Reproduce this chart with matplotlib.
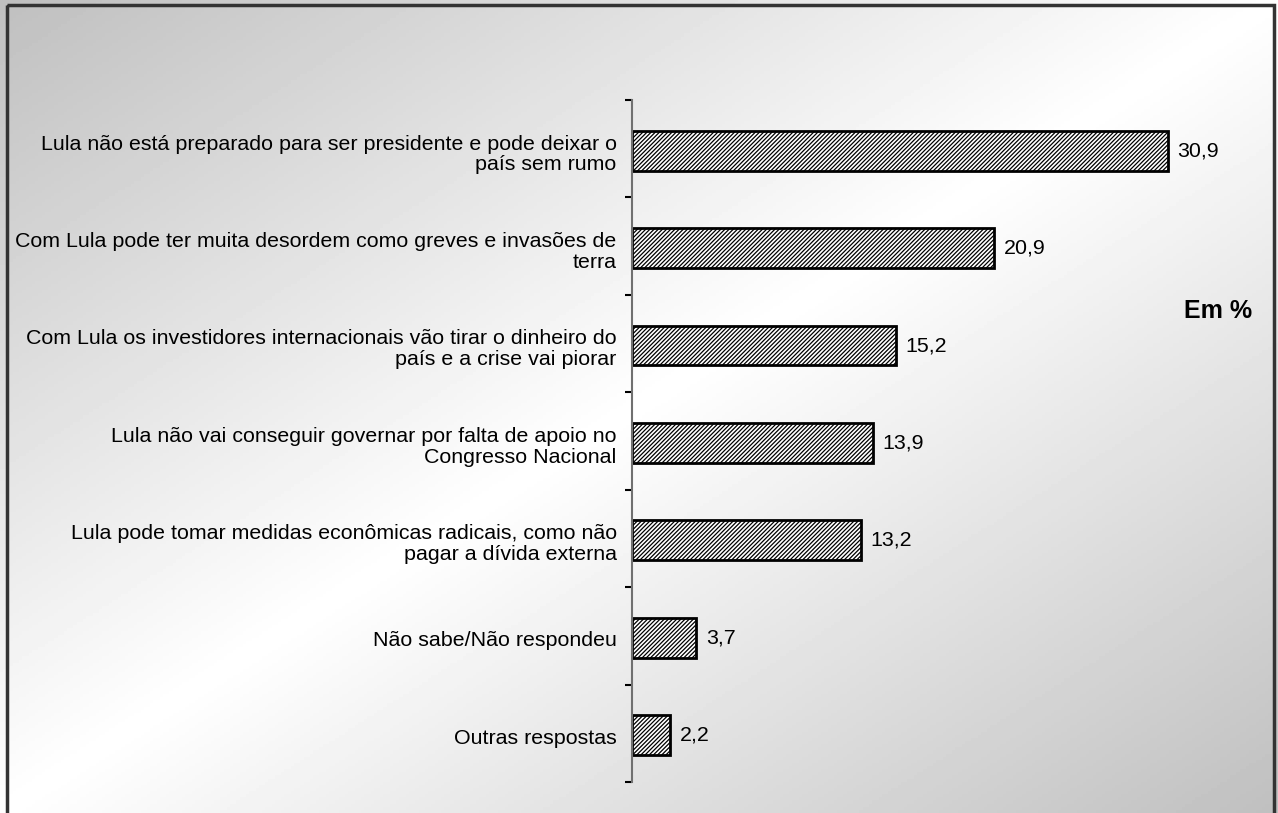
import numpy as np
import matplotlib
matplotlib.use('Agg')
import matplotlib.pyplot as plt
from matplotlib.patches import Rectangle

plt.rcParams['font.family'] = ['Liberation Sans', 'DejaVu Sans']
plt.rcParams['hatch.linewidth'] = 0.9

# Data
categories = ['Lula não está preparado para ser presidente e pode deixar o\npaís sem rumo',
              'Com Lula pode ter muita desordem como greves e invasões de\nterra',
              'Com Lula os investidores internacionais vão tirar o dinheiro do\npaís e a crise vai piorar',
              'Lula não vai conseguir governar por falta de apoio no\nCongresso Nacional',
              'Lula pode tomar medidas econômicas radicais, como não\npagar a dívida externa',
              'Não sabe/Não respondeu',
              'Outras respostas']
values = [30.9, 20.9, 15.2, 13.9, 13.2, 3.7, 2.2]
value_labels = ['30,9', '20,9', '15,2', '13,9', '13,2', '3,7', '2,2']

W, H = 1278, 813
fig = plt.figure(figsize=(W / 100, H / 100), dpi=100)

# background gradient: grey in top-left / bottom-right corners, white along the other diagonal
bg = fig.add_axes([0, 0, 1, 1], zorder=0)
xx, yy = np.meshgrid(np.linspace(0, 1, 400), np.linspace(0, 1, 260))
s = np.abs(xx + yy - 1.0)
shade = 1.0 - 0.25 * s
bg.imshow(shade, cmap='gray', vmin=0, vmax=1, aspect='auto', extent=[0, 1, 1, 0])
bg.set_xlim(0, 1)
bg.set_ylim(1, 0)
bg.axis('off')
bg.add_patch(Rectangle((7 / W, 5 / H), (1274 - 7) / W, 1.0, fill=False,
                       edgecolor='#333333', linewidth=2.5))

ax = fig.add_axes([632 / W, 1 - 782 / H, 607 / W, 682 / H], zorder=1)
ax.patch.set_alpha(0)

y = np.arange(len(categories))
ax.barh(y + 0.02, values, height=0.41, facecolor='white', edgecolor='black',
        linewidth=2, hatch='////////')
for yi, v, lab in zip(y, values, value_labels):
    ax.annotate(lab, (v, yi + 0.02), xytext=(7, 0), textcoords='offset points',
                va='center', ha='left', fontsize=15.4)

ax.set_xlim(0, 35)
ax.set_ylim(len(categories) - 0.5, -0.5)
ax.set_yticks(y + 0.03)
ax.set_yticklabels(categories, fontsize=15.4, linespacing=1.12)
ax.set_yticks(np.arange(-0.5, len(categories), 1.0), minor=True)
ax.tick_params(axis='y', which='major', length=0, pad=11)
ax.tick_params(axis='y', which='minor', length=5, width=1.5, color='black', direction='out')
ax.set_xticks([])
for side in ['top', 'right', 'bottom']:
    ax.spines[side].set_visible(False)
ax.spines['left'].set_color('#707070')
ax.spines['left'].set_linewidth(1.5)

fig.text(1218 / W, 1 - 311 / H, 'Em %', fontsize=18, fontweight='bold',
         ha='center', va='center')

fig.savefig('out.png', dpi=100)
